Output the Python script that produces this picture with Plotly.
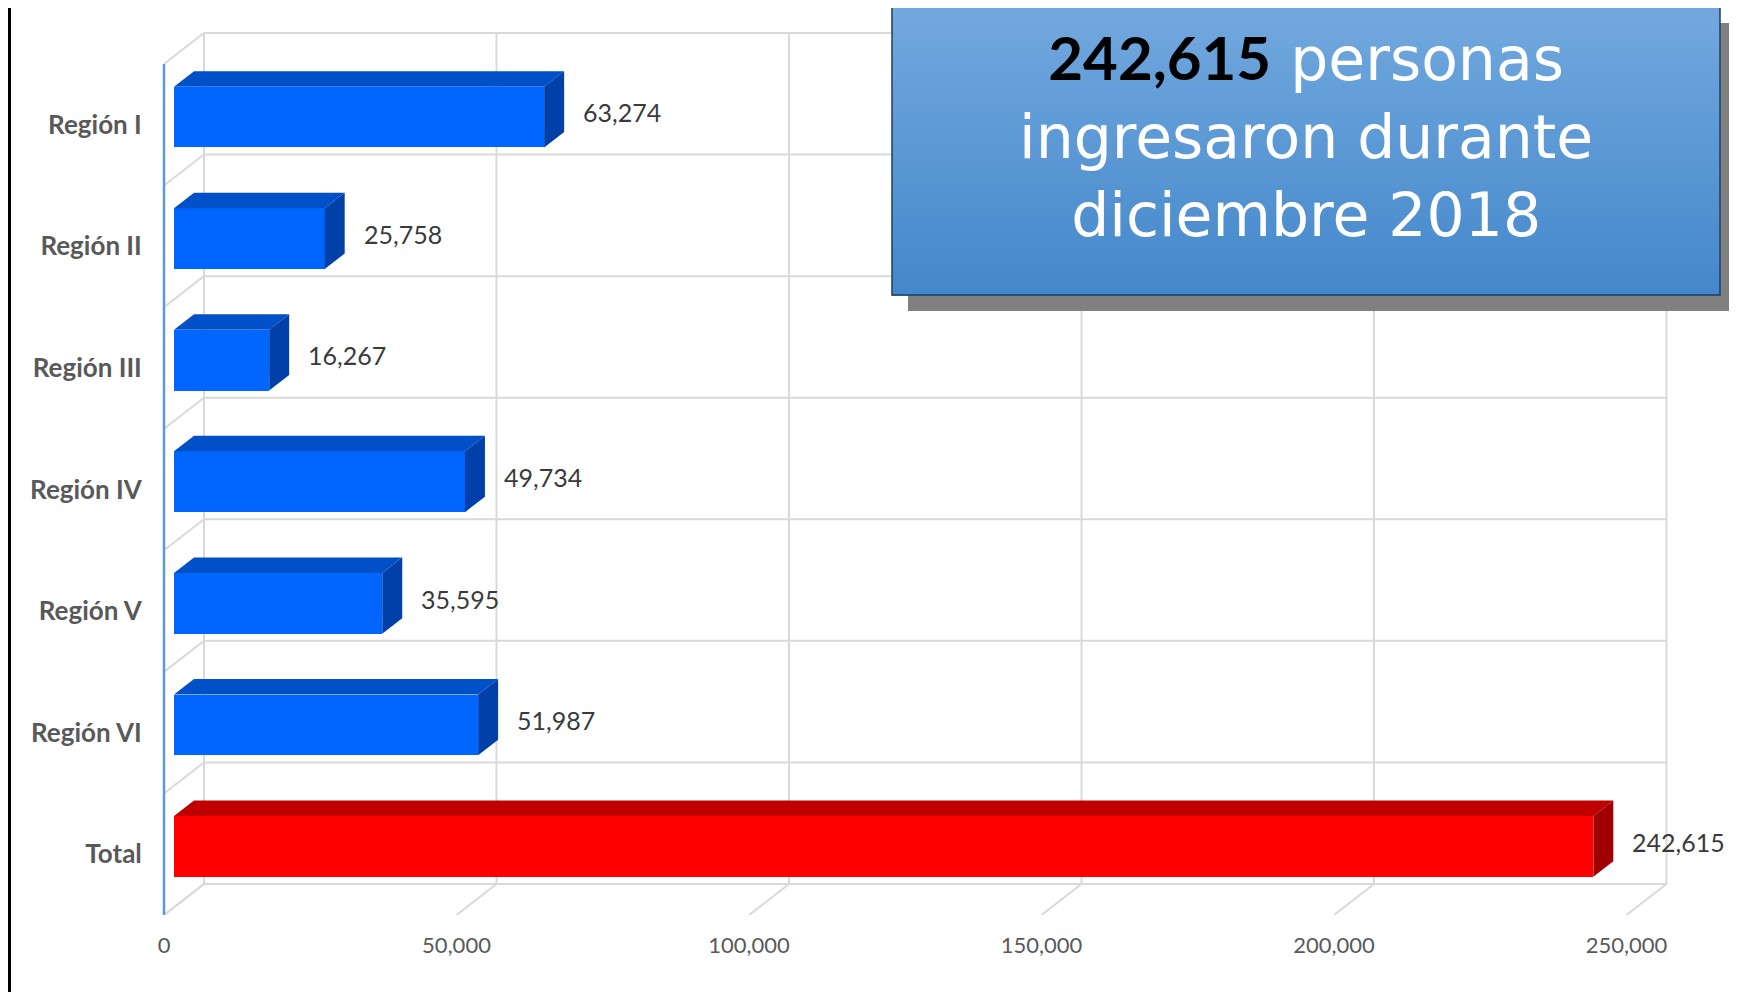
import plotly.graph_objects as go

# datos
categorias = ["Región I", "Región II", "Región III", "Región IV", "Región V", "Región VI", "Total"]
valores = [63274, 25758, 16267, 49734, 35595, 51987, 242615]
ticks_x = [0, 50000, 100000, 150000, 200000, 250000]
total_texto = "242,615"

# geometria (pixeles de pantalla; la pagina agrega 8px de margen)
OFF = 8
W, H = 1737 - OFF, 992 - OFF
LEFT = 164 - OFF          # 0 en el plano frontal
FRONT_BOTTOM = 915 - OFF
PLOT_TOP = 24 - OFF
PLOT_RIGHT = 1678 - OFF
PX_POR_UNIDAD = 292.5 / 50000
ROW = 121.57
DEPTH_X, DEPTH_Y = 40, 31

plot_w = PLOT_RIGHT - LEFT
plot_h = FRONT_BOTTOM - PLOT_TOP
dx = DEPTH_X / PX_POR_UNIDAD
dy = DEPTH_Y / ROW
n = len(categorias)
x_max = max(ticks_x)

GRID = "#D9D9D9"


def px_x(p):
    return (p - OFF - LEFT) / plot_w


def px_y(p):
    return (FRONT_BOTTOM - (p - OFF)) / plot_h


shapes = []

# pared del fondo: lineas verticales y piso
for t in ticks_x:
    shapes.append(dict(type="line", xref="x", yref="y", layer="below",
                       x0=t + dx, x1=t + dx, y0=-0.5 + dy, y1=n - 0.5 + dy,
                       line=dict(color=GRID, width=2)))
    shapes.append(dict(type="line", xref="x", yref="y", layer="below",
                       x0=t, x1=t + dx, y0=-0.5, y1=-0.5 + dy,
                       line=dict(color=GRID, width=2)))

# pared del fondo: lineas horizontales + pared izquierda
for j in range(n + 1):
    yy = -0.5 + j
    shapes.append(dict(type="line", xref="x", yref="y", layer="below",
                       x0=dx, x1=x_max + dx, y0=yy + dy, y1=yy + dy,
                       line=dict(color=GRID, width=2)))
    shapes.append(dict(type="line", xref="x", yref="y", layer="below",
                       x0=0, x1=dx, y0=yy, y1=yy + dy,
                       line=dict(color=GRID, width=2)))

# eje vertical frontal (en papel para que no se recorte)
shapes.append(dict(type="line", xref="paper", yref="y", layer="above",
                   x0=0, x1=0, y0=-0.5, y1=n - 0.5,
                   line=dict(color="#5B9BD5", width=2.5)))

# barras 3D
base = 0.25 * dx
y_frente = []
col_frente = []
annotations = []
for i, (cat, v) in enumerate(zip(categorias, valores)):
    yf = (n - 1 - i) + 0.25 * dy
    y_frente.append(yf)
    if cat == "Total":
        cf, cs, cl = "#FF0000", "#C00000", "#A00000"
    else:
        cf, cs, cl = "#0066FF", "#0050C8", "#0040A8"
    col_frente.append(cf)
    yt = yf + 0.25
    yb = yf - 0.25
    x1 = base + v
    top = (f"M {base},{yt} L {x1},{yt} L {x1 + 0.5 * dx},{yt + 0.5 * dy} "
           f"L {base + 0.5 * dx},{yt + 0.5 * dy} Z")
    side = (f"M {x1},{yb} L {x1 + 0.5 * dx},{yb + 0.5 * dy} "
            f"L {x1 + 0.5 * dx},{yt + 0.5 * dy} L {x1},{yt} Z")
    shapes.append(dict(type="path", path=top, xref="x", yref="y", layer="above",
                       fillcolor=cs, line=dict(width=0)))
    shapes.append(dict(type="path", path=side, xref="x", yref="y", layer="above",
                       fillcolor=cl, line=dict(width=0)))
    annotations.append(dict(x=x1 + 0.5 * dx, y=yf + 0.25 * dy, xref="x", yref="y",
                            text=f"{v:,}", showarrow=False, xanchor="left",
                            yanchor="middle", xshift=17, yshift=-3,
                            font=dict(family="Lato", size=25, color="#3A3A3A")))

fig = go.Figure()
fig.add_trace(go.Bar(
    y=y_frente, x=valores, base=base, orientation="h", width=0.5,
    marker=dict(color=col_frente, line=dict(width=0)),
    hoverinfo="skip", showlegend=False,
))

# cuadro de titulo (coordenadas de pantalla)
BX0, BX1, BY0, BY1 = 892, 1720, 7, 295
shapes.append(dict(type="rect", xref="paper", yref="paper", layer="above",
                   x0=px_x(BX0 + 16), x1=px_x(1745), y0=px_y(BY0 + 16), y1=px_y(BY1 + 16),
                   fillcolor="#808080", line=dict(width=0)))
c_top = (0x72, 0xA8, 0xDE)
c_bot = (0x44, 0x88, 0xCB)
steps = 48
h_step = (BY1 - BY0) / steps
for s in range(steps):
    f = s / (steps - 1)
    c = tuple(round(a + (b - a) * f) for a, b in zip(c_top, c_bot))
    shapes.append(dict(type="rect", xref="paper", yref="paper", layer="above",
                       x0=px_x(BX0), x1=px_x(BX1),
                       y0=px_y(BY0 + s * h_step), y1=px_y(BY0 + (s + 1) * h_step + 0.8),
                       fillcolor="rgb(%d,%d,%d)" % c, line=dict(width=0)))
shapes.append(dict(type="rect", xref="paper", yref="paper", layer="above",
                   x0=px_x(BX0), x1=px_x(BX1), y0=px_y(BY0), y1=px_y(BY1),
                   fillcolor="rgba(0,0,0,0)", line=dict(color="#1F3F5F", width=1.5)))
annotations.append(dict(
    x=px_x((BX0 + BX1) / 2), y=px_y(136), xref="paper", yref="paper",
    text=f"<span style='font-family:Lato;color:#000000'><b>{total_texto}</b></span> personas<br>"
         "ingresaron durante<br>diciembre 2018",
    showarrow=False, align="center", xanchor="center", yanchor="middle",
    font=dict(family="DejaVu Sans", size=60, color="#FFFFFF"),
))

# borde izquierdo
shapes.append(dict(type="line", xref="paper", yref="paper", layer="above",
                   x0=px_x(9.5), x1=px_x(9.5), y0=px_y(0), y1=px_y(1000),
                   line=dict(color="#000000", width=3)))

fig.update_layout(
    width=W, height=H,
    margin=dict(l=LEFT, r=W - PLOT_RIGHT, t=PLOT_TOP, b=H - FRONT_BOTTOM),
    paper_bgcolor="#FFFFFF", plot_bgcolor="rgba(0,0,0,0)",
    shapes=shapes, annotations=annotations,
    bargap=0,
)
fig.update_xaxes(
    range=[0, plot_w / PX_POR_UNIDAD], tickvals=ticks_x,
    ticktext=[f"{t:,}" for t in ticks_x],
    showgrid=False, zeroline=False, showline=False,
    ticks="outside", ticklen=11, tickcolor="rgba(0,0,0,0)",
    tickfont=dict(family="Lato", size=22, color="#595959"),
)
fig.update_yaxes(
    range=[-0.5, -0.5 + plot_h / ROW], tickvals=list(range(n - 1, -1, -1)),
    ticktext=categorias,
    showgrid=False, zeroline=False, showline=False,
    ticks="outside", ticklen=16, tickcolor="rgba(0,0,0,0)",
    tickfont=dict(family="Lato", size=26, color="#595959", weight="bold"),
)

fig.write_html("out.html")
